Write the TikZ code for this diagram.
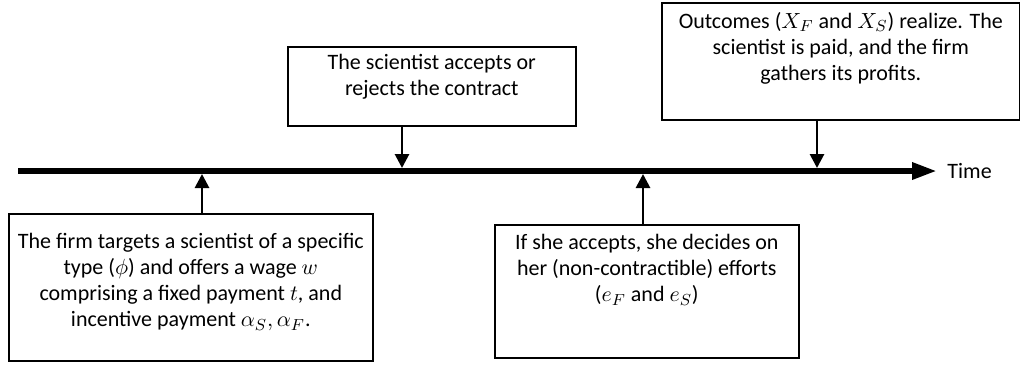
\documentclass[tikz,border=0pt]{standalone}
\usepackage{fontspec}
\setmainfont{Carlito}
\usetikzlibrary{arrows.meta,positioning}
\tikzset{
    %Define standard arrow tip
    >={Triangle[length=7pt,width=7pt]},
    %Define style for the event boxes
    event/.style={
           rectangle,
           draw=black,
           line width=0.8pt,
           inner sep=0pt},
    %Define style for the text in the boxes
    eventtext/.style={
           align=center,
           inner sep=0pt,
           font=\fontsize{11pt}{13pt}\selectfont},
    % Define style for the time line
    timeline/.style={
           -{Triangle[length=12.5pt,width=8pt]},
           line width=3pt},
    % Define arrow style
    arrow/.style={
           ->,
           line width=1.4pt,
           }
}

\begin{document}
\begin{tikzpicture}[x=0.5pt, y=-0.5pt]
    \useasboundingbox (0,0) rectangle (1020,366);
    % time line
    \coordinate (start) at (18,171);
    \coordinate (end) at (937,171);
    \node [right=5pt of end, inner sep=0pt, font=\fontsize{11pt}{13pt}\selectfont] (time) {Time};
    \draw[timeline] (start) -- (end);

    % event boxes
    \node [event, anchor=north west, minimum width=182pt, minimum height=73.5pt] (offer) at (8,213) {};
    \node [eventtext, below=10pt of offer.north] (offer text)
        {The firm targets a scientist of a specific\\
         type ($\phi$) and offers a wage $w$\\
         comprising a fixed payment $t$, and\\
         incentive payment $\alpha_S, \alpha_F$.};
    \node [event, anchor=north west, minimum width=144pt, minimum height=39.5pt] (accept) at (287,46) {};
    \node [eventtext, below=4pt of accept.north] (accept text)
        {The scientist accepts or\\ rejects the contract};
    \node [event, anchor=north west, minimum width=152pt, minimum height=66.5pt] (effort) at (494,224) {};
    \node [eventtext, below=5pt of effort.north] (effort text)
        {If she accepts, she decides on\\
         her (non-contractible) efforts\\
         ($e_F$ and $e_S$)};
    \node [event, anchor=north west, minimum width=179pt, minimum height=58.5pt] (outcome) at (661,2) {};
    \node [eventtext, below=5pt of outcome.north] (outcome text)
        {Outcomes ($X_F$ and $X_S$) realize. The\\
         scientist is paid, and the firm\\
         gathers its profits.};

    % points on the time line
    \coordinate (t offer) at (202,174);
    \coordinate (t accept) at (402,168);
    \coordinate (t effort) at (643,174);
    \coordinate (t outcome) at (817,168);

	\draw[arrow] (offer.north -| t offer) -- (t offer);
	\draw[arrow] (accept.south -| t accept) -- (t accept);
	\draw[arrow] (effort.north -| t effort) -- (t effort);
	\draw[arrow] (outcome.south -| t outcome) -- (t outcome);
\end{tikzpicture}
\end{document}
